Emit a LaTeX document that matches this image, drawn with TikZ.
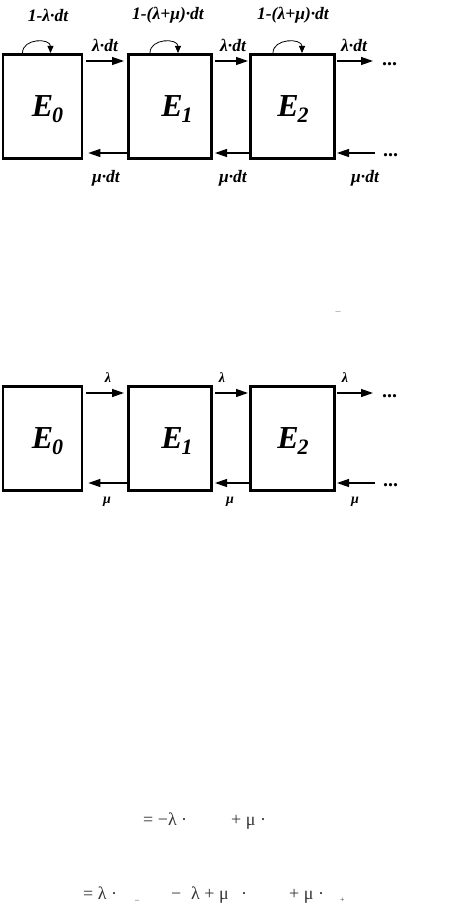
\documentclass[tikz,border=0pt]{standalone}
\usepackage{fontspec}
\setmainfont{Liberation Serif}
\usetikzlibrary{arrows.meta}

\tikzset{
  state/.style={draw, line width=2.6pt, minimum height=104.4pt, inner sep=0pt},
  flow/.style={-{Triangle[length=12pt,width=8pt]}, line width=1.3pt},
  selfloop/.style={-{Triangle[length=7pt,width=6pt]}, line width=0.8pt},
  rate/.style={font=\fontsize{17.5}{17.5}\selectfont\bfseries\itshape, inner sep=0pt},
  srate/.style={font=\fontsize{14}{14}\selectfont\bfseries\itshape, inner sep=0pt},
  more/.style={font=\fontsize{20}{20}\selectfont\bfseries, inner sep=0pt, anchor=base west},
  eqn/.style={font=\fontsize{18}{18}\selectfont, text=black!80, anchor=base west, inner sep=0pt},
}
\newcommand{\stlabel}[1]{\fontsize{32}{32}\selectfont\bfseries\itshape E\kern-1pt\raisebox{-6pt}{\fontsize{22}{22}\selectfont #1}}

\begin{document}
\begin{tikzpicture}[x=1pt, y=-1pt]
  \useasboundingbox (0,0) rectangle (474,904);
  % states of both chains
  \foreach \p/\yc in {a/106.5, b/438.5}
    \foreach \i/\xc/\w/\lx in {0/42.5/79/47.5, 1/170/83.4/177, 2/292.5/84.4/293} {
      \node[state, minimum width=\w pt] (\p\i) at (\xc,\yc) {};
      \node (\p l\i) at (\lx,\yc+3) {\stlabel{\i}};
    }
  % free ends on the right
  \coordinate (a3t) at ([xshift=37pt,yshift=-8pt]a2.north east);
  \coordinate (a3b) at ([xshift=39pt,yshift=7pt]a2.south east);
  \coordinate (b3t) at ([xshift=37pt,yshift=-8pt]b2.north east);
  \coordinate (b3b) at ([xshift=39pt,yshift=9pt]b2.south east);
  \node[more] (adt) at (382,65.5) {...};
  \node[more] (adb) at (383,156.5) {...};
  \node[more] (bdt) at (382,397.5) {...};
  \node[more] (bdb) at (383,486.5) {...};
  % forward and backward flows
  \foreach \p/\tp/\bt in {a/8/7, b/8/9} {
    \draw[flow] ([xshift=3pt,yshift=-\tp pt]\p0.north east) -- ([xshift=-3pt,yshift=-\tp pt]\p1.north west);
    \draw[flow] ([xshift=2pt,yshift=-\tp pt]\p1.north east) -- ([xshift=-1pt,yshift=-\tp pt]\p2.north west);
    \draw[flow] ([xshift=1pt,yshift=-\tp pt]\p2.north east) -- (\p3t);
    \draw[flow] ([yshift=\bt pt]\p1.south west) -- ([xshift=5pt,yshift=\bt pt]\p0.south east);
    \draw[flow] ([yshift=\bt pt]\p2.south west) -- ([xshift=2pt,yshift=\bt pt]\p1.south east);
    \draw[flow] (\p3b) -- ([xshift=1pt,yshift=\bt pt]\p2.south east);
  }
  % staying in the same state
  \foreach \i/\l/\r in {0/-20/8, 1/-20/8, 2/-19.5/9.5}
    \draw[selfloop] ([xshift=\l pt]a\i.north) .. controls +(0,-15) and +(0,-15) .. ([xshift=\r pt]a\i.north);
  \node[rate] (s0) at (48,15) {1-λ·dt};
  \node[rate] (s1) at (168,15) {1-(λ+μ)·dt};
  \node[rate] (s2) at (293,15) {1-(λ+μ)·dt};
  % rates with dt
  \node[rate] (f0) at (105,45) {λ·dt};
  \node[rate] (f1) at (233,45) {λ·dt};
  \node[rate] (f2) at (354,45) {λ·dt};
  \node[rate] (r0) at (106,178) {μ·dt};
  \node[rate] (r1) at (233,178) {μ·dt};
  \node[rate] (r2) at (365,178) {μ·dt};
  % rates of the second chain
  \node[srate] (g0) at (108,378) {λ};
  \node[srate] (g1) at (222,378) {λ};
  \node[srate] (g2) at (345,378) {λ};
  \node[srate] (m0) at (107,502) {μ};
  \node[srate] (m1) at (230,502) {μ};
  \node[srate] (m2) at (355,502) {μ};
  \node[font=\fontsize{10}{10}\selectfont, text=gray] (tick) at (338,313) {–};
  % equations
  \node[eqn] (e1a) at (143,825) {= −λ ·};
  \node[eqn] (e1b) at (231,825) {+ μ ·};
  \node[eqn] (e2a) at (83,899) {= λ ·};
  \node[eqn, font=\fontsize{8}{8}\selectfont] (e2b) at (135,902) {–};
  \node[eqn] (e2c) at (171,899) {−};
  \node[eqn] (e2d) at (191,899) {λ + μ};
  \node[eqn] (e2e) at (241,899) {·};
  \node[eqn] (e2f) at (289,899) {+ μ ·};
  \node[eqn, font=\fontsize{8}{8}\selectfont] (e2g) at (340,902) {+};
\end{tikzpicture}
\end{document}
